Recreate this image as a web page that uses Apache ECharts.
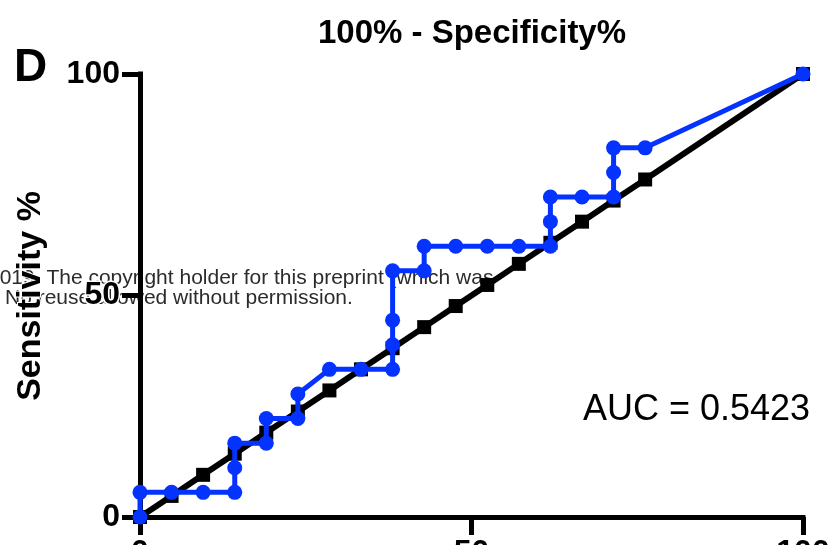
<!DOCTYPE html>
<html>
<head>
<meta charset="utf-8">
<script src="https://cdn.jsdelivr.net/npm/echarts@6/dist/echarts.min.js"></script>
<style>
  html, body { margin: 0; padding: 0; background: #fff; }
  #chart { width: 834px; height: 545px; }
</style>
</head>
<body>
<div id="chart"></div>
<script>
// ROC curve: 100% - specificity (x) vs sensitivity (y)
const fprPct = [0, 0, 4.76, 9.52, 14.29, 14.29, 14.29, 19.05, 19.05, 23.81, 23.81, 28.57, 33.33, 38.10, 38.10, 38.10, 38.10, 42.86, 42.86, 47.62, 52.38, 57.14, 61.90, 61.90, 61.90, 66.67, 71.43, 71.43, 71.43, 76.19, 100];
const sensPct = [0, 5.56, 5.56, 5.56, 5.56, 11.11, 16.67, 16.67, 22.22, 22.22, 27.78, 33.33, 33.33, 33.33, 38.89, 44.44, 55.56, 55.56, 61.11, 61.11, 61.11, 61.11, 61.11, 66.67, 72.22, 72.22, 72.22, 77.78, 83.33, 83.33, 100];

// line of identity (chance), sampled at the same thresholds
const refPct = [0, 4.76, 9.52, 14.29, 19.05, 23.81, 28.57, 33.33, 38.10, 42.86, 47.62, 52.38, 57.14, 61.90, 66.67, 71.43, 76.19, 100];

const axisTicks = [0, 50, 100];
const aucText = 'AUC = 0.5423';

const rocPoints = fprPct.map((x, i) => [x, sensPct[i]]);
const refPoints = refPct.map(v => [v, v]);

const chart = echarts.init(document.getElementById('chart'), null, { renderer: 'canvas' });

const axisCommon = {
  type: 'value',
  min: axisTicks[0],
  max: axisTicks[axisTicks.length - 1],
  interval: axisTicks[1] - axisTicks[0],
  splitLine: { show: false },
  axisLine: { show: true, lineStyle: { color: '#000', width: 5, cap: 'square' } },
  axisTick: { show: true, length: 18, lineStyle: { color: '#000', width: 5 } },
  axisLabel: {
    color: '#000',
    fontFamily: 'Liberation Sans, Arial, sans-serif',
    fontWeight: 'bold',
    fontSize: 32
  }
};

chart.setOption({
  backgroundColor: '#fff',
  animation: false,
  grid: { left: 140, right: 31, top: 74, bottom: 28, containLabel: false, outerBoundsMode: 'none' },
  xAxis: Object.assign({}, axisCommon, {
    axisLabel: Object.assign({}, axisCommon.axisLabel, { margin: 20 })
  }),
  yAxis: Object.assign({}, axisCommon, {
    axisLabel: Object.assign({}, axisCommon.axisLabel, {
      margin: 20,
      textBorderColor: '#fff',
      textBorderWidth: 3
    })
  }),
  graphic: [
    {
      type: 'text', z: 0, left: -12, top: 268, silent: true,
      style: {
        text: '2019. The copyright holder for this preprint (which was',
        font: '21px "Liberation Sans", Arial, sans-serif',
        fill: '#2b2b2b'
      }
    },
    {
      type: 'text', z: 0, left: 5, top: 288, silent: true,
      style: {
        text: 'No reuse allowed without permission.',
        font: '21px "Liberation Sans", Arial, sans-serif',
        fill: '#2b2b2b'
      }
    },
    {
      type: 'text', z: 10, x: 472, y: 34,
      style: {
        text: '100% - Specificity%',
        font: 'bold 33px "Liberation Sans", Arial, sans-serif',
        fill: '#000', align: 'center', verticalAlign: 'middle'
      }
    },
    {
      type: 'text', z: 10, x: 31, y: 296, rotation: Math.PI / 2,
      style: {
        text: 'Sensitivity %',
        font: 'bold 34px "Liberation Sans", Arial, sans-serif',
        fill: '#000', align: 'center', verticalAlign: 'middle',
        stroke: '#fff', lineWidth: 2
      }
    },
    {
      type: 'text', z: 10, x: 14, y: 68,
      style: {
        text: 'D',
        font: 'bold 46px "Liberation Sans", Arial, sans-serif',
        fill: '#000', align: 'left', verticalAlign: 'middle'
      }
    },
    {
      type: 'text', z: 10, x: 583, y: 410,
      style: {
        text: aucText,
        font: '36px "Liberation Sans", Arial, sans-serif',
        fill: '#000', align: 'left', verticalAlign: 'middle'
      }
    }
  ],
  series: [
    {
      name: 'Reference',
      type: 'line',
      data: refPoints,
      clip: false,
      z: 3,
      symbol: 'rect',
      symbolSize: 14,
      showAllSymbol: true,
      lineStyle: { color: '#000', width: 6 },
      itemStyle: { color: '#000' }
    },
    {
      name: 'ROC',
      type: 'line',
      data: rocPoints,
      clip: false,
      z: 4,
      symbol: 'circle',
      symbolSize: 15,
      showAllSymbol: true,
      lineStyle: { color: '#0433ff', width: 5 },
      itemStyle: { color: '#0433ff' }
    }
  ]
});
</script>
</body>
</html>
